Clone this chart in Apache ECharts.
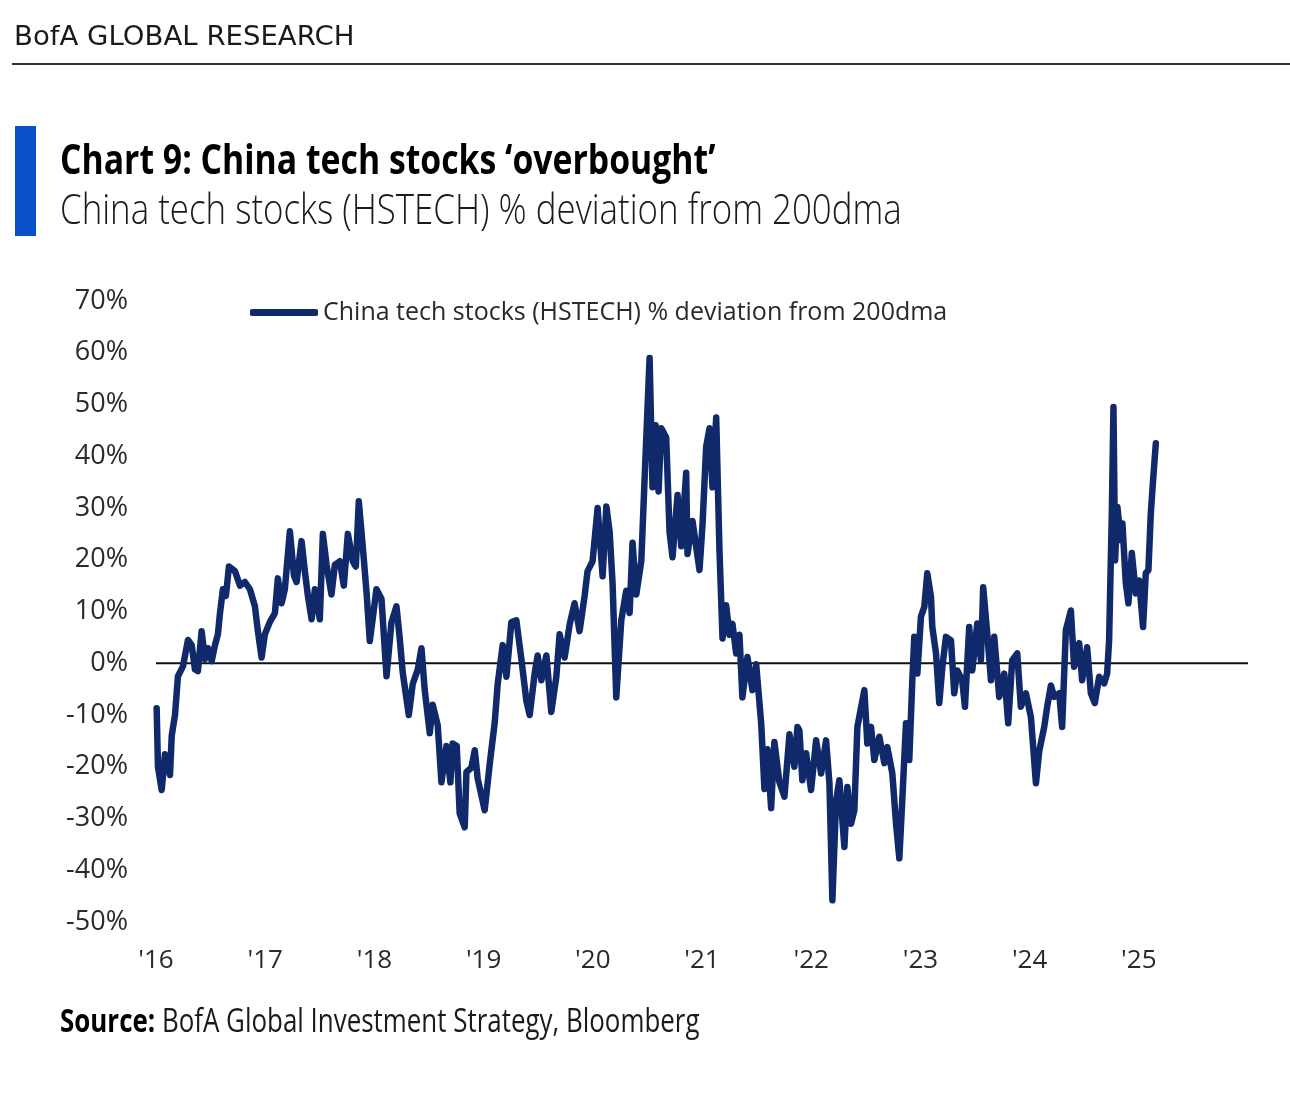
<!DOCTYPE html>
<html>
<head>
<meta charset="utf-8">
<script src="https://cdn.jsdelivr.net/npm/echarts@6/dist/echarts.min.js"></script>
<style>
html,body{margin:0;padding:0;background:#fff;}
#chart{width:1290px;height:1116px;}
</style>
</head>
<body>
<div id="chart"></div>
<script>
// Decimal-year dates and % deviation of HSTECH from its 200-day moving average
const years = [
2016.006,2016.018,2016.052,2016.082,2016.128,2016.144,2016.174,2016.201,2016.247,2016.293,
2016.327,2016.357,2016.384,2016.418,2016.448,2016.476,2016.510,2016.540,2016.567,2016.586,
2016.613,2016.640,2016.668,2016.723,2016.769,2016.814,2016.860,2016.906,2016.933,2016.967,
2016.997,2017.043,2017.089,2017.116,2017.150,2017.180,2017.226,2017.263,2017.287,2017.333,
2017.363,2017.391,2017.425,2017.455,2017.500,2017.528,2017.562,2017.607,2017.638,2017.683,
2017.720,2017.757,2017.802,2017.830,2017.857,2017.894,2017.928,2017.958,2018.019,2018.065,
2018.111,2018.156,2018.202,2018.232,2018.260,2018.315,2018.351,2018.397,2018.431,2018.461,
2018.507,2018.534,2018.580,2018.614,2018.660,2018.696,2018.717,2018.754,2018.781,2018.827,
2018.843,2018.888,2018.919,2018.946,2019.010,2019.056,2019.102,2019.129,2019.175,2019.209,
2019.254,2019.300,2019.346,2019.392,2019.422,2019.468,2019.495,2019.529,2019.575,2019.620,
2019.666,2019.696,2019.742,2019.788,2019.833,2019.879,2019.925,2019.952,2019.998,2020.044,
2020.090,2020.124,2020.154,2020.181,2020.215,2020.261,2020.306,2020.337,2020.364,2020.398,
2020.444,2020.474,2020.520,2020.547,2020.575,2020.602,2020.627,2020.672,2020.703,2020.730,
2020.776,2020.810,2020.855,2020.867,2020.913,2020.977,2021.005,2021.038,2021.069,2021.096,
2021.130,2021.160,2021.188,2021.221,2021.252,2021.279,2021.313,2021.343,2021.370,2021.416,
2021.462,2021.496,2021.542,2021.572,2021.599,2021.633,2021.663,2021.709,2021.755,2021.801,
2021.846,2021.874,2021.892,2021.919,2021.953,2021.999,2022.045,2022.091,2022.136,2022.167,
2022.194,2022.228,2022.258,2022.304,2022.331,2022.365,2022.395,2022.423,2022.487,2022.514,
2022.548,2022.578,2022.624,2022.670,2022.697,2022.743,2022.777,2022.807,2022.834,2022.868,
2022.898,2022.926,2022.944,2022.972,2023.005,2023.036,2023.063,2023.097,2023.109,2023.143,
2023.173,2023.201,2023.234,2023.280,2023.310,2023.338,2023.383,2023.408,2023.447,2023.475,
2023.521,2023.554,2023.575,2023.612,2023.646,2023.676,2023.722,2023.768,2023.804,2023.841,
2023.887,2023.920,2023.966,2024.012,2024.058,2024.088,2024.134,2024.161,2024.195,2024.225,
2024.271,2024.298,2024.332,2024.378,2024.408,2024.454,2024.481,2024.527,2024.561,2024.597,
2024.637,2024.683,2024.710,2024.728,2024.753,2024.768,2024.783,2024.804,2024.835,2024.850,
2024.881,2024.905,2024.936,2024.973,2025.003,2025.039,2025.064,2025.088,2025.110,2025.131,
2025.156
];
const deviation = [
-8.7,-20,-24.5,-17.6,-21.6,-14,-10,-2.5,-0.6,4.5,
3.5,-1.2,-1.5,6.2,0.8,2.9,0.4,3.5,5.6,9.7,
14.3,13,18.7,17.8,15,15.7,14.3,11,6.2,1.1,
5.6,8,9.7,16.4,11.6,14.3,25.5,17,15.7,23.6,
17.8,13,8.5,14.3,8.5,25,19,13.3,19,19.7,
15,25,19.7,18.7,31.3,22.4,13.7,4.3,14.3,12.4,
-2.5,7.9,11,4.8,-1.9,-10,-4,-1.2,2.9,-5.2,
-13.5,-8,-12,-23,-16,-23,-15.5,-16,-29,-31.7,
-21,-20.2,-16.8,-22.3,-28.4,-19.5,-11.4,-4,3.5,-2.6,
7.9,8.3,0.8,-7.3,-10,-1.9,1.5,-3.3,1.5,-9.4,
-2.6,5.6,1.1,7.5,11.6,6.2,13,17.8,19.7,30,
16.8,30.3,25.4,15.5,-6.6,8.3,14,9.7,23.3,13.3,
19.7,35.4,59,34,46,33.2,45.4,43.6,25.4,20.5,
32.5,22.6,36.8,21.1,27.5,18,26.9,41.8,45.4,34,
47.5,21.8,4.8,11.2,5.5,7.6,1.9,5.5,-6.6,1.2,
-5.2,-0.2,-11.6,-24.3,-16.6,-28,-15.2,-23,-25.8,-13.7,
-20,-12.3,-13,-22.6,-17.4,-24.5,-14.9,-21.3,-14.9,-23.2,
-45.8,-26.5,-22.6,-35.5,-23.9,-31,-28.4,-12.3,-5.2,-15.5,
-12.3,-18.7,-14.2,-19.3,-16.2,-21.3,-31,-37.7,-26.5,-11.6,
-18.7,-3.3,5.1,-2,9,10.9,17.4,12.8,7,1.9,
-7.7,-0.7,5.1,4.4,-5.8,-1.4,-3.3,-8.4,7,-1.4,
7.7,0.6,14.7,5.8,-3.3,5.1,-6.5,-2,-11.6,0.6,
1.9,-8.4,-5.8,-10.4,-23.2,-17,-12.3,-8.4,-4.3,-6.5,
-5.8,-12.3,6.4,10.2,-0.7,3.9,-3.3,3.1,-5.8,-7.7,
-2.6,-3.9,-2,4.4,29,49.5,19.9,30.2,23.8,27,
15.5,11.6,21.3,13.5,16,7,17.4,18,29,35.4,
42.5
];
const zeroLineX = [2016, 2026];
const zeroLineY = [0, 0];
const seriesName = 'China tech stocks (HSTECH) % deviation from 200dma';

const FONT = '"Open Sans", sans-serif';
const chart = echarts.init(document.getElementById('chart'), null, {renderer: 'canvas'});

chart.setOption({
  backgroundColor: '#ffffff',
  animation: false,
  grid: {left: 156, right: 42, top: 301, bottom: 194, containLabel: false},
  legend: {
    data: [seriesName],
    left: 250, top: 300, padding: 0,
    icon: 'roundRect', itemWidth: 68, itemHeight: 7,
    textStyle: {fontFamily: FONT, fontSize: 25, color: '#2a2a2a'}
  },
  xAxis: {
    type: 'value', min: 2016, max: 2026, interval: 1,
    axisLine: {show: false}, axisTick: {show: false}, splitLine: {show: false},
    axisLabel: {
      fontFamily: FONT, fontSize: 26, color: '#2a2a2a', margin: 26,
      formatter: v => v >= 2026 ? '' : "'" + String(v).slice(2)
    }
  },
  yAxis: {
    type: 'value', min: -50, max: 70, interval: 10,
    axisLine: {show: false}, axisTick: {show: false}, splitLine: {show: false},
    axisLabel: {fontFamily: FONT, fontSize: 27, color: '#2a2a2a', margin: 28, formatter: '{value}%'}
  },
  series: [
    {
      name: 'zero', type: 'line', silent: true, z: 1,
      data: zeroLineX.map((x, i) => [x, zeroLineY[i]]),
      showSymbol: false, lineStyle: {color: '#111', width: 2}
    },
    {
      name: seriesName, type: 'line', z: 3,
      data: years.map((y, i) => [y, deviation[i]]),
      showSymbol: false,
      lineStyle: {color: '#10296b', width: 6.5, join: 'round', cap: 'round'},
      itemStyle: {color: '#10296b'}
    }
  ],
  graphic: [
    {type: 'text', x: 14, y: 38, scaleX: 1.06, style: {text: 'BofA GLOBAL RESEARCH', font: '26px "DejaVu Sans", sans-serif', fill: '#1a1a1a', textVerticalAlign: 'middle'}},
    {type: 'rect', shape: {x: 12, y: 63, width: 1278, height: 2}, style: {fill: '#333'}},
    {type: 'rect', shape: {x: 15, y: 126, width: 21, height: 110}, style: {fill: '#0a50c8'}},
    {type: 'text', x: 60, y: 162, scaleX: 0.804, style: {text: 'Chart 9: China tech stocks \u2018overbought\u2019', font: 'bold 42px ' + FONT, fill: '#000', textVerticalAlign: 'middle'}},
    {type: 'text', x: 60, y: 212, scaleX: 0.83, style: {text: 'China tech stocks (HSTECH) % deviation from 200dma', font: '300 42px ' + FONT, fill: '#1a1a1a', textVerticalAlign: 'middle'}},
    {type: 'text', x: 60, y: 1023, scaleX: 0.81, style: {
      text: '{b|Source:} BofA Global Investment Strategy, Bloomberg',
      font: '32px ' + FONT, fill: '#1a1a1a', textVerticalAlign: 'middle',
      rich: {b: {font: 'bold 32px ' + FONT, fill: '#000'}}
    }}
  ]
});
</script>
</body>
</html>
